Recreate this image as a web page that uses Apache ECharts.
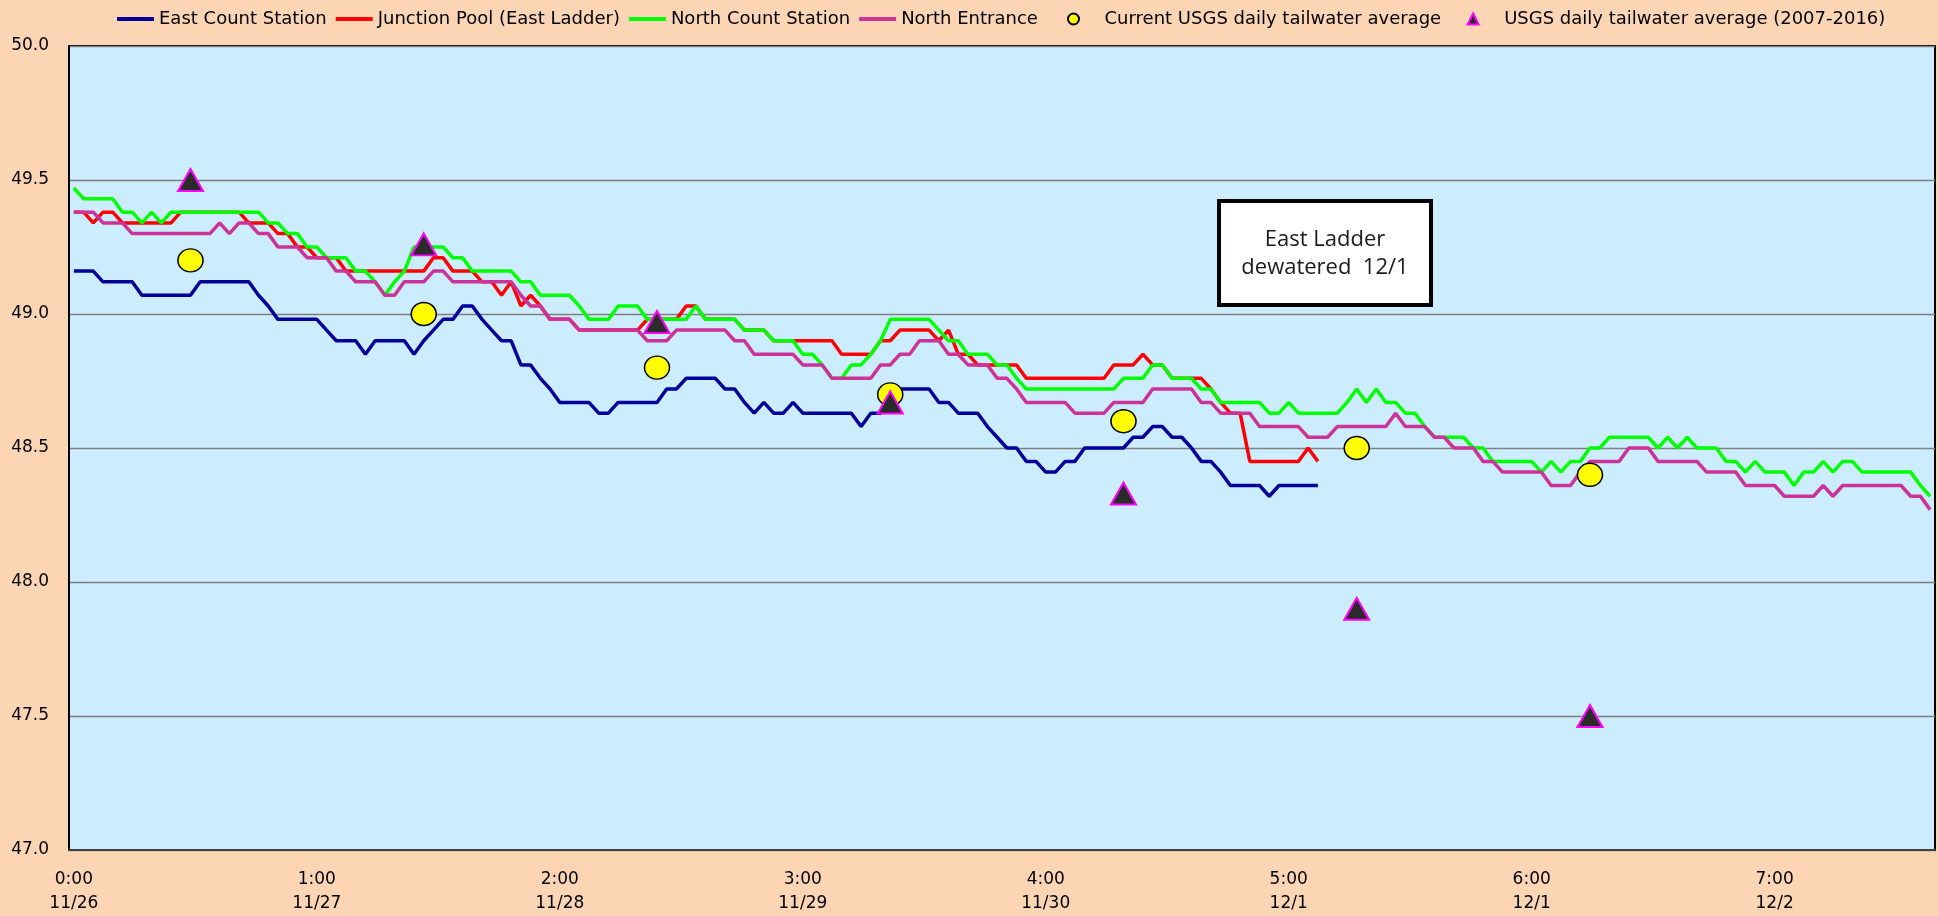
<!DOCTYPE html>
<html>
<head>
<meta charset="utf-8">
<script src="https://cdn.jsdelivr.net/npm/echarts@6.0.0/dist/echarts.min.js"></script>
<style>
html,body{margin:0;padding:0;background:#FCD5B4;}
#chart{width:1938px;height:916px;}
</style>
</head>
<body>
<div id="chart"></div>
<script>
// hourly categories (192 points), labels every 25 points
var categoryCount = 192;
var tickLabels = ['0:00\n11/26','1:00\n11/27','2:00\n11/28','3:00\n11/29','4:00\n11/30','5:00\n12/1','6:00\n12/1','7:00\n12/2'];

var eastCount = [
49.16,49.16,49.16,49.12,49.12,49.12,49.12,49.07,49.07,49.07,49.07,49.07,49.07,49.12,49.12,49.12,49.12,49.12,49.12,49.07,49.03,48.98,48.98,48.98,48.98,48.98,48.94,48.90,48.90,48.90,48.85,48.90,
48.90,48.90,48.90,48.85,48.90,48.94,48.98,48.98,49.03,49.03,48.98,48.94,48.90,48.90,48.81,48.81,48.76,48.72,48.67,48.67,48.67,48.67,48.63,48.63,48.67,48.67,48.67,48.67,48.67,48.72,48.72,48.76,
48.76,48.76,48.76,48.72,48.72,48.67,48.63,48.67,48.63,48.63,48.67,48.63,48.63,48.63,48.63,48.63,48.63,48.58,48.63,48.63,48.67,48.72,48.72,48.72,48.72,48.67,48.67,48.63,48.63,48.63,48.58,48.54,
48.50,48.50,48.45,48.45,48.41,48.41,48.45,48.45,48.50,48.50,48.50,48.50,48.50,48.54,48.54,48.58,48.58,48.54,48.54,48.50,48.45,48.45,48.41,48.36,48.36,48.36,48.36,48.32,48.36,48.36,48.36,48.36,48.36
];

var junctionPool = [
49.38,49.38,49.34,49.38,49.38,49.34,49.34,49.34,49.34,49.34,49.34,49.38,49.38,49.38,49.38,49.38,49.38,49.38,49.34,49.34,49.34,49.30,49.30,49.25,49.25,49.21,49.21,49.21,49.16,49.16,49.16,49.16,
49.16,49.16,49.16,49.16,49.16,49.21,49.21,49.16,49.16,49.16,49.12,49.12,49.07,49.12,49.03,49.07,49.03,48.98,48.98,48.98,48.94,48.94,48.94,48.94,48.94,48.94,48.94,48.98,48.98,48.98,48.98,49.03,
49.03,48.98,48.98,48.98,48.98,48.94,48.94,48.94,48.90,48.90,48.90,48.90,48.90,48.90,48.90,48.85,48.85,48.85,48.85,48.90,48.90,48.94,48.94,48.94,48.94,48.90,48.94,48.85,48.85,48.81,48.81,48.81,
48.81,48.81,48.76,48.76,48.76,48.76,48.76,48.76,48.76,48.76,48.76,48.81,48.81,48.81,48.85,48.81,48.81,48.76,48.76,48.76,48.76,48.72,48.67,48.63,48.63,48.45,48.45,48.45,48.45,48.45,48.45,48.50,48.45
];

var northCount = [
49.47,49.43,49.43,49.43,49.43,49.38,49.38,49.34,49.38,49.34,49.38,49.38,49.38,49.38,49.38,49.38,49.38,49.38,49.38,49.38,49.34,49.34,49.30,49.30,49.25,49.25,49.21,49.21,49.21,49.16,49.16,49.12,
49.07,49.12,49.16,49.25,49.25,49.25,49.25,49.21,49.21,49.16,49.16,49.16,49.16,49.16,49.12,49.12,49.07,49.07,49.07,49.07,49.03,48.98,48.98,48.98,49.03,49.03,49.03,48.98,48.98,48.98,48.98,48.98,
49.03,48.98,48.98,48.98,48.98,48.94,48.94,48.94,48.90,48.90,48.90,48.85,48.85,48.81,48.76,48.76,48.81,48.81,48.85,48.90,48.98,48.98,48.98,48.98,48.98,48.94,48.90,48.90,48.85,48.85,48.85,48.81,
48.81,48.76,48.72,48.72,48.72,48.72,48.72,48.72,48.72,48.72,48.72,48.72,48.76,48.76,48.76,48.81,48.81,48.76,48.76,48.76,48.72,48.72,48.67,48.67,48.67,48.67,48.67,48.63,48.63,48.67,48.63,48.63,
48.63,48.63,48.63,48.67,48.72,48.67,48.72,48.67,48.67,48.63,48.63,48.58,48.54,48.54,48.54,48.54,48.50,48.50,48.45,48.45,48.45,48.45,48.45,48.41,48.45,48.41,48.45,48.45,48.50,48.50,48.54,48.54,
48.54,48.54,48.54,48.50,48.54,48.50,48.54,48.50,48.50,48.50,48.45,48.45,48.41,48.45,48.41,48.41,48.41,48.36,48.41,48.41,48.45,48.41,48.45,48.45,48.41,48.41,48.41,48.41,48.41,48.41,48.36,48.32
];

var northEntrance = [
49.38,49.38,49.38,49.34,49.34,49.34,49.30,49.30,49.30,49.30,49.30,49.30,49.30,49.30,49.30,49.34,49.30,49.34,49.34,49.30,49.30,49.25,49.25,49.25,49.21,49.21,49.21,49.16,49.16,49.12,49.12,49.12,
49.07,49.07,49.12,49.12,49.12,49.16,49.16,49.12,49.12,49.12,49.12,49.12,49.12,49.12,49.07,49.03,49.03,48.98,48.98,48.98,48.94,48.94,48.94,48.94,48.94,48.94,48.94,48.90,48.90,48.90,48.94,48.94,
48.94,48.94,48.94,48.94,48.90,48.90,48.85,48.85,48.85,48.85,48.85,48.81,48.81,48.81,48.76,48.76,48.76,48.76,48.76,48.81,48.81,48.85,48.85,48.90,48.90,48.90,48.85,48.85,48.81,48.81,48.81,48.76,
48.76,48.72,48.67,48.67,48.67,48.67,48.67,48.63,48.63,48.63,48.63,48.67,48.67,48.67,48.67,48.72,48.72,48.72,48.72,48.72,48.67,48.67,48.63,48.63,48.63,48.63,48.58,48.58,48.58,48.58,48.58,48.54,
48.54,48.54,48.58,48.58,48.58,48.58,48.58,48.58,48.63,48.58,48.58,48.58,48.54,48.54,48.50,48.50,48.50,48.45,48.45,48.41,48.41,48.41,48.41,48.41,48.36,48.36,48.36,48.41,48.45,48.45,48.45,48.45,
48.50,48.50,48.50,48.45,48.45,48.45,48.45,48.45,48.41,48.41,48.41,48.41,48.36,48.36,48.36,48.36,48.32,48.32,48.32,48.32,48.36,48.32,48.36,48.36,48.36,48.36,48.36,48.36,48.36,48.32,48.32,48.27
];

// daily averages, plotted at category index
var dailyIndex = [12, 36, 60, 84, 108, 132, 156];
var currentUSGS = [49.2, 49.0, 48.8, 48.7, 48.6, 48.5, 48.4];
var usgsAvg = [49.5, 49.26, 48.97, 48.67, 48.33, 47.9, 47.5];

var categories = [];
for (var i = 0; i < categoryCount; i++) categories.push(String(i));
function pairs(idx, vals){ return idx.map(function(x,k){ return [String(x), vals[k]]; }); }

var chart = echarts.init(document.getElementById('chart'), null, {renderer:'canvas'});
var FONT = 'DejaVu Sans';
var linePath = 'path://M0 0H37V4H0Z';
var triPath = 'path://M0 5.5L0 5.5M52 5.5L52 5.5M26 0L31.5 11L20.5 11Z';
var legendText = {fontFamily: FONT, fontSize: 18, color: '#000'};
var option = {
  backgroundColor: '#FCD5B4',
  animation: false,
  textStyle: {fontFamily: FONT},
  legend: [{
    top: 5, left: 112,
    itemWidth: 37, itemHeight: 11, itemGap: 9,
    textStyle: legendText,
    data: [
      {name: 'East Count Station', icon: linePath},
      {name: 'Junction Pool (East Ladder)', icon: linePath},
      {name: 'North Count Station', icon: linePath},
      {name: 'North Entrance', icon: linePath}
    ]
  }, {
    top: 5, left: 1062,
    itemWidth: 52, itemHeight: 11, itemGap: 5,
    textStyle: legendText,
    data: [
      {name: 'Current USGS daily tailwater average', icon: 'circle'},
      {name: 'USGS daily tailwater average (2007-2016)', icon: triPath}
    ]
  }],
  grid: {left: 69, right: 3, top: 46, bottom: 66, show: true, backgroundColor: '#CCECFF', borderColor: '#000', borderWidth: 2},
  xAxis: {
    type: 'category', data: categories, boundaryGap: true,
    axisLine: {show: true, lineStyle: {color: '#404040', width: 2}},
    axisTick: {show: false},
    axisLabel: {interval: 24, margin: 18, fontSize: 17, lineHeight: 24, color: '#000', fontFamily: FONT,
      formatter: function(v, idx){ return tickLabels[Math.round(idx/25)] || ''; }},
    splitLine: {show: false}
  },
  yAxis: {
    type: 'value', min: 47, max: 50, interval: 0.5,
    axisLine: {show: true, lineStyle: {color: '#000', width: 2}},
    axisTick: {show: false},
    axisLabel: {margin: 20, fontSize: 17, color: '#000', fontFamily: FONT, formatter: function(v){ return v.toFixed(1); }},
    splitLine: {show: true, lineStyle: {color: '#7F7F7F', width: 1.3}}
  },
  series: [
    {name: 'East Count Station', type: 'line', data: eastCount, symbol: 'none', color: '#000099', lineStyle: {width: 3.5, color: '#000099'}},
    {name: 'Junction Pool (East Ladder)', type: 'line', data: junctionPool, symbol: 'none', color: '#FF0000', lineStyle: {width: 3.5, color: '#FF0000'}},
    {name: 'North Count Station', type: 'line', data: northCount, symbol: 'none', color: '#00FF00', lineStyle: {width: 3.5, color: '#00FF00'}},
    {name: 'North Entrance', type: 'line', data: northEntrance, symbol: 'none', color: '#CC3399', lineStyle: {width: 3.5, color: '#CC3399'}},
    {name: 'Current USGS daily tailwater average', type: 'scatter', data: pairs(dailyIndex, currentUSGS), symbol: 'circle', symbolSize: [25, 23],
      itemStyle: {color: '#FFFF00', borderColor: '#000', borderWidth: 1.5, opacity: 1}, z: 5},
    {name: 'USGS daily tailwater average (2007-2016)', type: 'scatter', data: pairs(dailyIndex, usgsAvg), symbol: 'triangle', symbolSize: [25, 22],
      itemStyle: {color: '#2B2B2B', borderColor: '#FF00FF', borderWidth: 2, opacity: 1}, z: 6}
  ],
  graphic: [
    {type: 'group', left: 1217, top: 199, children: [
      {type: 'rect', shape: {x: 2, y: 2, width: 212, height: 104}, style: {fill: '#FFFFFF', stroke: '#000', lineWidth: 4}},
      {type: 'text', x: 108, y: 41, style: {text: 'East Ladder', fontFamily: 'Open Sans', fontSize: 22, fill: '#1a1a1a', align: 'center', verticalAlign: 'middle'}},
      {type: 'text', x: 108, y: 69, style: {text: 'dewatered  12/1', fontFamily: 'Open Sans', fontSize: 22, fill: '#1a1a1a', align: 'center', verticalAlign: 'middle'}}
    ]}
  ]
};
chart.setOption(option);
</script>
</body>
</html>
